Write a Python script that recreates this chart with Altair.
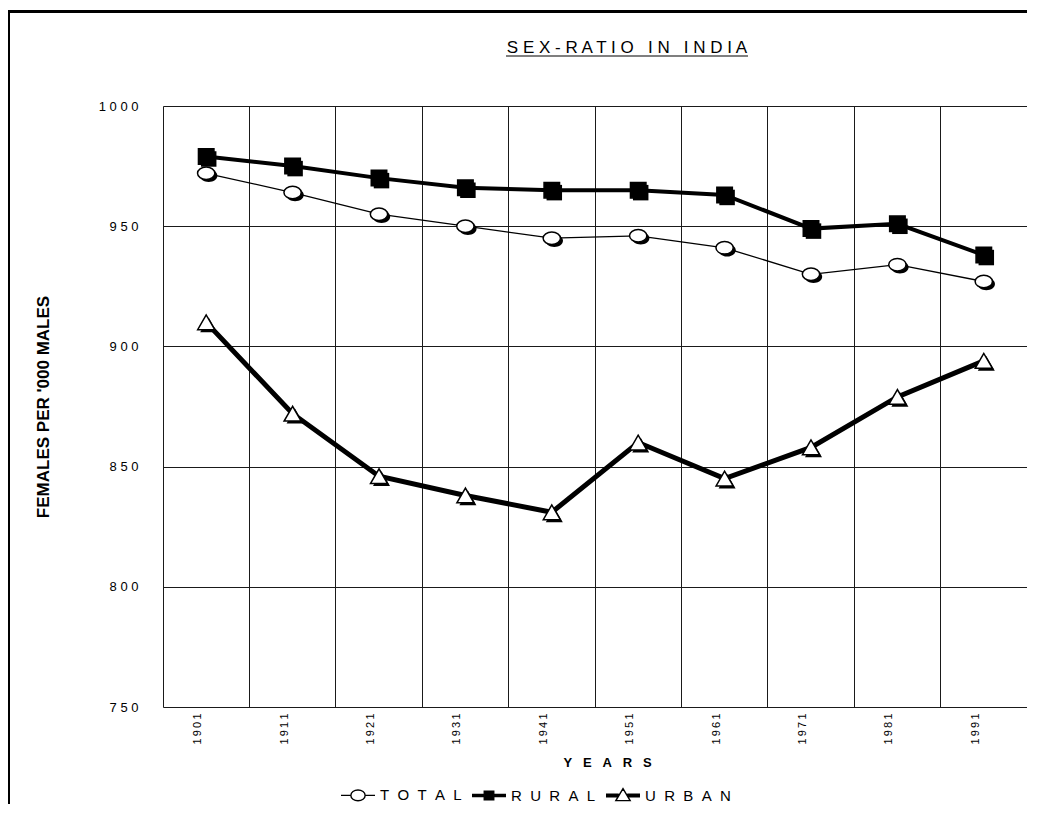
import altair as alt
import pandas as pd

years = ["1901", "1911", "1921", "1931", "1941", "1951", "1961", "1971", "1981", "1991"]
total = [972, 964, 955, 950, 945, 946, 941, 930, 934, 927]
rural = [979, 975, 970, 966, 965, 965, 963, 949, 951, 938]
urban = [910, 872, 846, 838, 831, 860, 845, 858, 879, 894]
series_names = ["TOTAL", "RURAL", "URBAN"]
y_ticks = [750, 800, 850, 900, 950, 1000]
title_text = "SEX-RATIO IN INDIA"
x_title = "YEARS"
y_title = "FEMALES PER '000 MALES"

rows = []
for name, vals in zip(series_names, [total, rural, urban]):
    for yr, v in zip(years, vals):
        rows.append({"year": yr, "value": v, "series": name})
df = pd.DataFrame(rows)

W, H = 864, 601
FONT = "Liberation Sans"
GRID = "#1a1a1a"
NB = "\u00a0"

def spaced(s, gap=" ", word_gap=NB * 3):
    return word_gap.join(gap.join(list(w)) for w in s.split(" "))

x_enc = alt.X(
    "year:O",
    scale=alt.Scale(type="band", paddingInner=0, paddingOuter=0, domain=years),
    axis=alt.Axis(
        title=spaced(x_title, gap=NB * 3), bandPosition=0, labelAngle=270, labelOffset=-8,
        ticks=False, domain=False, grid=True, gridColor=GRID, gridWidth=1, gridOpacity=1,
        labelPadding=6, titlePadding=12, titleX=444,
        titleFontSize=13, titleFontWeight="bold", labelFontSize=11,
        labelExpr="join(split(datum.label,''),'\u2009')",
    ),
)
y_enc = alt.Y(
    "value:Q",
    scale=alt.Scale(domain=[750, 1000], nice=False, zero=False),
    axis=alt.Axis(
        values=y_ticks, format="d", labelExpr="join(split(datum.label,''),' ')",
        labelPadding=25, ticks=False, domain=False, grid=True, gridColor=GRID, gridWidth=1, gridOpacity=1,
        labelFontSize=13,
        title=y_title, titleX=-120, titleY=H / 2, titleAngle=270, titleFontWeight="bold",
        titleFontSize=17, titleAlign="center", titleBaseline="middle",
    ),
)

base = alt.Chart(df).encode(x=x_enc, y=y_enc)

layers = []
widths = {"TOTAL": 1.3, "RURAL": 4, "URBAN": 5}
for name in series_names:
    layers.append(
        base.transform_filter(alt.datum.series == name).mark_line(color="black", strokeWidth=widths[name])
    )

ellipse = "M-1,0A1,0.72,0,1,0,1,0A1,0.72,0,1,0,-1,0Z"
marks = {"TOTAL": (ellipse, "white", 300), "RURAL": ("square", "black", 240), "URBAN": ("triangle-up", "white", 290)}
for name in series_names:
    shp, fillc, sz = marks[name]
    layers.append(
        base.transform_filter(alt.datum.series == name).mark_point(
            shape=shp, filled=True, fill="black", size=sz, xOffset=2.5, yOffset=2.5, opacity=1
        )
    )
for name in series_names:
    shp, fillc, sz = marks[name]
    layers.append(
        base.transform_filter(alt.datum.series == name).mark_point(
            shape=shp, filled=True, fill=fillc, stroke="black", strokeWidth=1.5, size=sz, opacity=1
        )
    )

legend_paths = [
    "M-1,0H-0.42M0.42,0H1M-0.42,0A0.42,0.32,0,1,0,0.42,0A0.42,0.32,0,1,0,-0.42,0Z",
    "M-1,-0.06H-0.28M-1,0H-0.28M-1,0.06H-0.28M0.28,-0.06H1M0.28,0H1M0.28,0.06H1M-0.28,-0.26H0.28V0.26H-0.28Z",
    "M-1,-0.08H-0.25M-1,0H-0.25M-1,0.08H-0.25M0.25,-0.08H1M0.25,0H1M0.25,0.08H1M0,-0.4L0.42,0.3H-0.42Z",
]
leg_params = dict(
    title=None, orient="none", legendX=177, legendY=671, direction="horizontal",
    symbolSize=1156, symbolStrokeWidth=1.4, symbolOpacity=1,
    labelFontSize=15, labelFont=FONT, labelColor="black", labelOffset=4, columnPadding=7,
    labelExpr="join(split(datum.label,''),'\u00a0\u00a0')",
)
legend_layer = (
    alt.Chart(df)
    .transform_filter("false")
    .mark_point(filled=True, strokeWidth=1.4, size=1156)
    .encode(
        x=alt.X("year:O"),
        y=alt.Y("value:Q"),
        shape=alt.Shape("series:N", scale=alt.Scale(domain=series_names, range=legend_paths), legend=alt.Legend(**leg_params)),
        fill=alt.Fill("series:N", scale=alt.Scale(domain=series_names, range=["white", "black", "white"]), legend=alt.Legend(**leg_params)),
        stroke=alt.Stroke("series:N", scale=alt.Scale(domain=series_names, range=["black", "black", "black"]), legend=alt.Legend(**leg_params)),
    )
)
layers.append(legend_layer)

one = pd.DataFrame({"k": [0]})
# page frame drawn as thin filled bars (top and left edges only)
frame_top = alt.Chart(one).mark_rect(color="black", filled=True).encode(
    x=alt.value(-156), x2=alt.value(W + 300), y=alt.value(-96), y2=alt.value(-93)
)
frame_left = alt.Chart(one).mark_rect(color="black", filled=True).encode(
    x=alt.value(-156), x2=alt.value(-153), y=alt.value(-96), y2=alt.value(H + 200)
)
title_mark = alt.Chart(one).mark_text(
    text=spaced(title_text), fontSize=17, font=FONT, align="center", baseline="alphabetic", color="black"
).encode(x=alt.value(464), y=alt.value(-53))
underline = alt.Chart(one).mark_rule(color="black", strokeWidth=1.2).encode(
    x=alt.value(343), x2=alt.value(585), y=alt.value(-50)
)

chart = (
    alt.layer(frame_top, frame_left, *layers, title_mark, underline)
    .properties(width=W, height=H, autosize=alt.AutoSizeParams(type="none"),
                padding={"left": 155, "top": 98, "right": 0, "bottom": 97})
    .configure_view(stroke="black", strokeWidth=2)
    .configure_axis(labelColor="black", titleColor="black", labelFont=FONT, titleFont=FONT)
    .configure(background="white")
)

chart.save("out.html", embed_options={"renderer": "svg", "actions": False})
